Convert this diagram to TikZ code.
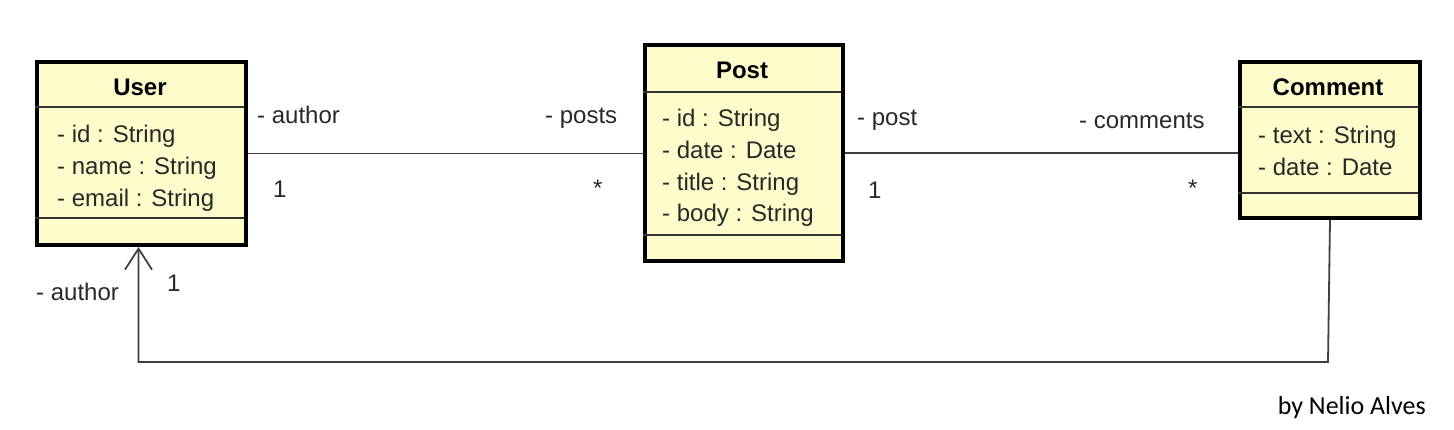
\documentclass[tikz,border=0pt]{standalone}
\usepackage{fontspec}
\setmainfont{Liberation Sans}
\newfontfamily\umlfont{Liberation Sans}
\newfontfamily\sigfont{Carlito}
\usetikzlibrary{arrows.meta}
\definecolor{classfill}{RGB}{255,252,204}
\definecolor{txt}{RGB}{40,40,40}
\begin{document}
\begin{tikzpicture}[x=1pt,y=-1pt,
  classbox/.style={draw=black,line width=4pt,fill=classfill,inner sep=0pt,anchor=north west},
  divider/.style={line width=1.8pt,draw=black!80},
  conn/.style={line width=1.8pt,draw=black!75},
  cname/.style={font=\umlfont\fontsize{24}{28}\selectfont\bfseries,text=black,inner sep=0pt},
  attr/.style={font=\umlfont\fontsize{24}{28}\selectfont,text=txt,anchor=west,inner sep=0pt,text height=17pt,text depth=5pt,yshift=-2.5pt},
  lbl/.style={font=\umlfont\fontsize{24}{28}\selectfont,text=txt,anchor=west,inner sep=0pt,text height=17pt,text depth=5pt,yshift=-2.5pt}]
\useasboundingbox (0,0) rectangle (1454,430);
% User
\node[classbox,minimum width=209pt,minimum height=183pt] (user) at (35,60) {};
\draw[divider] (35,107) -- (244,107);
\draw[divider] (35,218) -- (244,218);
\node[cname] (usern) at (140,87) {User};
\node[attr] (u1) at (57,134) {- id : String};
\node[attr] (u2) at (57,166) {- name : String};
\node[attr] (u3) at (57,198) {- email : String};
% Post
\node[classbox,minimum width=198pt,minimum height=216pt] (post) at (643,43) {};
\draw[divider] (643,92) -- (841,92);
\draw[divider] (643,235) -- (841,235);
\node[cname] (postn) at (742,70) {Post};
\node[attr] (p1) at (662,118) {- id : String};
\node[attr] (p2) at (662,150) {- date : Date};
\node[attr] (p3) at (662,182) {- title : String};
\node[attr] (p4) at (662,213) {- body : String};
% Comment
\node[classbox,minimum width=180pt,minimum height=156pt] (comment) at (1238,60) {};
\draw[divider] (1238,107) -- (1418,107);
\draw[divider] (1238,193) -- (1418,193);
\node[cname] (commentn) at (1328,87) {Comment};
\node[attr] (c1) at (1258,135) {- text : String};
\node[attr] (c2) at (1258,167) {- date : Date};
% connectors
\draw[conn] (user.east) -- (user.east -| post.west);
\draw[conn] (post.east) -- (post.east -| comment.west);
\coordinate (bend) at (1328,362);
\draw[conn,-{Straight Barb[length=21pt,width=27pt,line width=1.8pt]}] (comment.south) -- (bend) -| ([xshift=-3pt]user.south);
% labels
\node[lbl] (la1) at (257,115) {- author};
\node[lbl] (lp1) at (545,115) {- posts};
\node[lbl] (m1) at (273,189) {1};
\node[lbl] (m2) at (593,188) {*};
\node[lbl] (lp2) at (857,117) {- post};
\node[lbl] (lc1) at (1079,120) {- comments};
\node[lbl] (m3) at (868,190) {1};
\node[lbl] (m4) at (1188,188) {*};
\node[lbl] (la2) at (36,292) {- author};
\node[lbl] (m5) at (167,283) {1};
\node[font=\sigfont\fontsize{26}{30}\selectfont,anchor=east,inner sep=0pt] (sig) at (1426,408) {by Nelio Alves};
\end{tikzpicture}
\end{document}
